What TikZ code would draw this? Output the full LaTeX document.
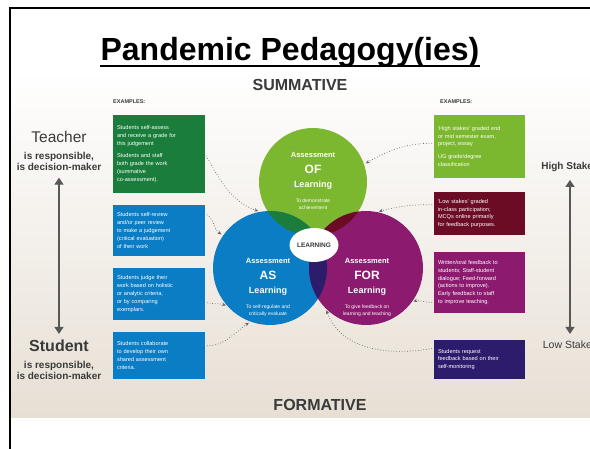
\documentclass[tikz,border=0pt]{standalone}
\usepackage{fontspec}
\setmainfont{Liberation Sans}
\usetikzlibrary{positioning,shapes.geometric,arrows.meta}

\definecolor{asblue}{HTML}{0A7DC4}
\definecolor{ofgreen}{HTML}{7CB82F}
\definecolor{ofasgreen}{HTML}{1B7D3B}
\definecolor{offorred}{HTML}{6B0B24}
\definecolor{forpurple}{HTML}{8C1A6E}
\definecolor{asforindigo}{HTML}{2D1B6B}
\definecolor{bgbeige}{HTML}{E7DFD4}
\definecolor{labelgray}{HTML}{3A3A3A}

\tikzset{examplebox/.style={rectangle, text=white, anchor=north west,
    outer sep=0pt, inner sep=4pt, text width=84pt, align=left,
    font=\fontsize{5.6}{7.8}\selectfont},
  venn/.style={circle, inner sep=0pt, outer sep=0pt},
  venntext/.style={text=white, align=center, inner sep=0pt,
    font=\bfseries\fontsize{5}{6}\selectfont},
  sidelabel/.style={text=labelgray, align=center, inner sep=1pt},
  dotarrow/.style={-{Stealth[length=4pt,width=3.5pt]}, dotted,
    line width=0.7pt, draw=gray!80!black, shorten <=2pt, shorten >=2pt},
  axisarrow/.style={{Triangle[length=7pt,width=9pt]}-{Triangle[length=7pt,width=9pt]},
    line width=1.2pt, draw=labelgray!85}
}

\begin{document}
\begin{tikzpicture}[x=1pt, y=-1pt]
   \useasboundingbox (0,0) rectangle (590,449);

   %Slide background and frame
   \shade[top color=white, bottom color=bgbeige] (11,70) rectangle (590,418);
   \draw[line width=2pt] (10,449) -- (10,8) -- (591,8);

   %Title node
   \node (Title) [anchor=base, inner sep=0pt,
   font=\bfseries\fontsize{32}{36}\selectfont] at (290,61) {Pandemic Pedagogy(ies)};
   \draw[line width=2pt] ([yshift=-5pt]Title.base west) -- ([yshift=-5pt]Title.base east);

   %Summative and formative
   \node (Summative) [text=labelgray, font=\bfseries\fontsize{16}{18}\selectfont] at (300,85) {SUMMATIVE};
   \node (Formative) [text=labelgray, font=\bfseries\fontsize{16}{18}\selectfont] at (320,405) {FORMATIVE};

   %Examples headers
   \node (Examples-L) [anchor=west, inner sep=0pt, text=labelgray,
   font=\bfseries\fontsize{5.5}{6}\selectfont] at (113,102) {EXAMPLES:};
   \node (Examples-R) [anchor=west, inner sep=0pt, text=labelgray,
   font=\bfseries\fontsize{5.5}{6}\selectfont] at (440,102) {EXAMPLES:};

   %Left example boxes
   \node (Box-L1) [examplebox, fill=ofasgreen, minimum height=78pt] at (113,115)
   {Students self-assess\\and receive a grade for\\this judgement\\[5pt]
    Students and staff\\both grade the work\\(summative\\co-assessment).};
   \node (Box-L2) [examplebox, fill=asblue, minimum height=51pt,
   below=12pt of Box-L1.south west, anchor=north west]
   {Students self-review\\and/or peer review\\to make a judgement\\(critical evaluation)\\of their work};
   \node (Box-L3) [examplebox, fill=asblue, minimum height=52pt,
   below=12pt of Box-L2.south west, anchor=north west]
   {Students judge their\\work based on holistic\\or analytic criteria,\\or by comparing\\exemplars.};
   \node (Box-L4) [examplebox, fill=asblue, minimum height=47pt,
   below=12pt of Box-L3.south west, anchor=north west]
   {Students collaborate\\to develop their own\\shared assessment\\criteria.};

   %Right example boxes
   \node (Box-R1) [examplebox, fill=ofgreen, minimum height=63pt, text width=83pt] at (434,115)
   {`High stakes' graded end\\or mid semester exam,\\project, essay\\[5pt]UG grade/degree\\classification};
   \node (Box-R2) [examplebox, fill=offorred, minimum height=43pt, text width=83pt,
   below=14pt of Box-R1.south west, anchor=north west]
   {`Low stakes' graded\\in-class participation;\\MCQs online primarily\\for feedback purposes.};
   \node (Box-R3) [examplebox, fill=forpurple, minimum height=61pt, text width=83pt,
   below=17pt of Box-R2.south west, anchor=north west]
   {Written/oral feedback to\\students; Staff-student\\dialogue; Feed-forward\\(actions to improve).\\Early feedback to staff\\to improve teaching.};
   \node (Box-R4) [examplebox, fill=asforindigo, minimum height=39pt, text width=83pt,
   below=27pt of Box-R3.south west, anchor=north west]
   {Students request\\feedback based on their\\self-monitoring};

   %Venn circles
   \node (Circle-OF) [venn, fill=ofgreen, minimum size=108pt] at (313,182) {};
   \node (Circle-AS) [venn, fill=asblue, minimum size=114pt] at (270,268) {};
   \node (Circle-FOR) [venn, fill=forpurple, minimum size=114pt] at (366,268) {};
   \begin{scope}
      \clip (Circle-OF.center) circle (54pt);
      \fill[ofasgreen] (Circle-AS.center) circle (57pt);
      \fill[offorred] (Circle-FOR.center) circle (57pt);
   \end{scope}
   \begin{scope}
      \clip (Circle-AS.center) circle (57pt);
      \fill[asforindigo] (Circle-FOR.center) circle (57pt);
   \end{scope}

   %Learning node
   \node (Learning) [ellipse, fill=white, minimum width=49pt, minimum height=34pt,
   inner sep=0pt, text=labelgray, font=\bfseries\fontsize{6.5}{7}\selectfont] at (314,245) {LEARNING};

   %Circle texts
   \node (Text-OF) [venntext] at (313,181)
   {{\fontsize{7.5}{8}\selectfont Assessment}\\[7pt]{\fontsize{12}{12}\selectfont OF}\\[6pt]
    {\fontsize{9}{9}\selectfont Learning}\\[9pt]{\mdseries To demonstrate}\\[1pt]{\mdseries achievement}};
   \node (Text-AS) [venntext] at (268,287)
   {{\fontsize{7.5}{8}\selectfont Assessment}\\[7pt]{\fontsize{12}{12}\selectfont AS}\\[6pt]
    {\fontsize{9}{9}\selectfont Learning}\\[9pt]{\mdseries To self-regulate and}\\[1pt]{\mdseries critically evaluate}};
   \node (Text-FOR) [venntext] at (367,287)
   {{\fontsize{7.5}{8}\selectfont Assessment}\\[7pt]{\fontsize{12}{12}\selectfont FOR}\\[6pt]
    {\fontsize{9}{9}\selectfont Learning}\\[9pt]{\mdseries To give feedback on}\\[1pt]{\mdseries learning and teaching}};

   %Teacher and student axis
   \node (Teacher) [sidelabel, font=\fontsize{15.5}{17}\selectfont] at (59,137) {Teacher};
   \node (Teacher-Sub) [sidelabel, below=7pt of Teacher,
   font=\bfseries\fontsize{10}{11}\selectfont] {is responsible,\\is decision-maker};
   \node (Student) [sidelabel, font=\bfseries\fontsize{16}{17}\selectfont] at (59,346) {Student};
   \node (Student-Sub) [sidelabel, below=7pt of Student,
   font=\bfseries\fontsize{10}{11}\selectfont] {is responsible,\\is decision-maker};
   \draw[axisarrow, shorten <=6pt, shorten >=5pt] (Teacher-Sub.south) -- (Student.north);

   %Stakes axis
   \node (High) [sidelabel, font=\bfseries\fontsize{10}{11}\selectfont] at (570,167) {High Stakes};
   \node (Low) [sidelabel, font=\fontsize{10.5}{11}\selectfont] at (570,345) {Low Stakes};
   \draw[axisarrow, shorten <=7pt, shorten >=6pt] (High.south) -- (Low.north);

   %Dotted connectors
   \draw[dotarrow] (Box-L1.east) to[out=-60, in=160] (Circle-AS.100);
   \draw[dotarrow] (Box-L2.20) to[out=-30, in=150] (Circle-AS.145);
   \draw[dotarrow] (Box-L3.-10) to[out=-15, in=160] (Circle-AS.222);
   \draw[dotarrow] (Box-L4.12) to[out=0, in=215] (Circle-AS.250);
   \draw[dotarrow] (Box-R1.176) to[out=180, in=30] (Circle-OF.19);
   \draw[dotarrow] (Box-R2.169) to[out=180, in=15] (Circle-FOR.79);
   \draw[dotarrow] (Box-R3.203) to[out=190, in=20] (Circle-FOR.-37);
   \draw[dotarrow] (Box-R4.166) to[out=190, in=-70] (Circle-FOR.225);

\end{tikzpicture}
\end{document}
